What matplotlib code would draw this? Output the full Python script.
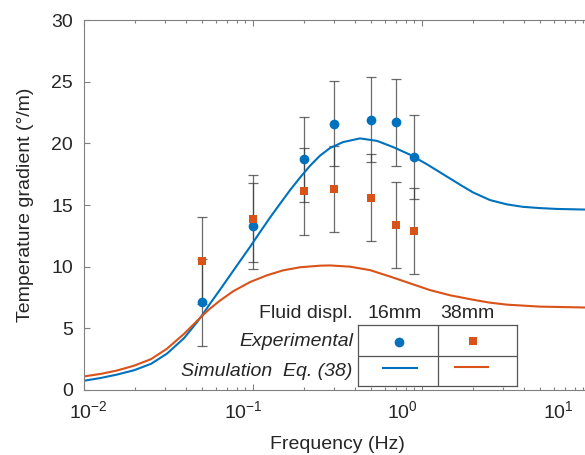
import matplotlib
matplotlib.use("Agg")
import matplotlib.pyplot as plt
import matplotlib.transforms as mtransforms

plt.rcParams["font.family"] = ["Liberation Sans", "DejaVu Sans"]

# measured points
freq = [0.05, 0.1, 0.2, 0.3, 0.5, 0.7, 0.9]
grad_16mm = [7.1, 13.3, 18.7, 21.6, 21.9, 21.7, 18.9]
err_16mm = [3.5, 3.5, 3.45, 3.45, 3.45, 3.5, 3.4]
grad_38mm = [10.5, 13.9, 16.1, 16.3, 15.6, 13.4, 12.9]
err_38mm = [3.5, 3.5, 3.5, 3.45, 3.5, 3.5, 3.5]

# simulation curves (Eq. 38)
sim_f_16 = [0.01, 0.01261, 0.01568, 0.01976, 0.02491, 0.03098, 0.03906, 0.04664,
            0.04992, 0.05568, 0.06379, 0.0731, 0.08377, 0.096, 0.11, 0.1261,
            0.1445, 0.1656, 0.1897, 0.2174, 0.2491, 0.2855, 0.3409, 0.4296,
            0.5414, 0.6737, 0.8492, 1.07, 1.331, 1.701, 2.004, 2.526, 3.184,
            3.96, 4.992, 6.294, 10.0]
sim_g_16 = [0.75, 0.98, 1.25, 1.6, 2.12, 2.95, 4.2, 5.5,
            6.05, 7.0, 8.13, 9.29, 10.45, 11.6, 12.8, 13.98,
            15.1, 16.2, 17.22, 18.18, 19.0, 19.62, 20.1, 20.4,
            20.2, 19.7, 19.08, 18.3, 17.5, 16.6, 16.02, 15.4, 15.05,
            14.85, 14.75, 14.68, 14.62]
sim_f_38 = [0.01, 0.01261, 0.01568, 0.01976, 0.02491, 0.03098, 0.03906, 0.04664,
            0.04992, 0.05568, 0.06379, 0.0762, 0.096, 0.121, 0.1505, 0.1897,
            0.2491, 0.2855, 0.375, 0.4925, 0.6467, 0.8492, 1.115, 1.465, 2.004,
            2.526, 3.184, 4.992, 10.0]
sim_g_38 = [1.1, 1.31, 1.58, 1.97, 2.5, 3.35, 4.55, 5.6,
            6.0, 6.6, 7.25, 8.0, 8.75, 9.3, 9.7, 9.95,
            10.08, 10.1, 10.0, 9.72, 9.2, 8.65, 8.1, 7.68, 7.32,
            7.08, 6.92, 6.76, 6.68]

x_ticks = [1e-2, 1e-1, 1e0, 1e1]
x_label_shift_px = [4, -10, -20, -33]
y_ticks = [0, 5, 10, 15, 20, 25, 30]

blue = "#0072BD"
orange = "#D95319"
frame = "#808080"
txt = "#262626"
fs = 14

W, H = 585, 455
fig = plt.figure(figsize=(W / 100, H / 100), dpi=100)
ax = fig.add_axes([84 / W, 65 / H, 507 / W, 370 / H])

ax.errorbar(freq, grad_16mm, yerr=err_16mm, fmt="none", ecolor="#3a3a3a", alpha=0.75,
            elinewidth=0.9, capsize=3.4, capthick=0.9, zorder=2)
ax.errorbar(freq, grad_38mm, yerr=err_38mm, fmt="none", ecolor="#3a3a3a", alpha=0.75,
            elinewidth=0.9, capsize=3.4, capthick=0.9, zorder=2)
ax.plot(sim_f_16, sim_g_16, color=blue, lw=1.5, zorder=2.5)
ax.plot(sim_f_38, sim_g_38, color=orange, lw=1.5, zorder=2.5)
ax.plot(freq, grad_16mm, "o", color=blue, ms=7, mew=0, zorder=3)
ax.plot(freq, grad_38mm, "s", color=orange, ms=5.5, mew=0, zorder=3)

ax.set_xscale("log")
ax.set_xlim(1e-2, 1e1)
ax.set_ylim(0, 30)
ax.set_xticks(x_ticks)
ax.set_yticks(y_ticks)
ax.tick_params(which="both", direction="in", top=True, right=True, colors=frame,
               labelcolor=txt, labelsize=fs, width=0.8)
ax.tick_params(which="major", length=4)
ax.tick_params(which="minor", length=2.5)
ax.tick_params(axis="y", pad=8)
ax.tick_params(axis="x", pad=7)
for s in ax.spines.values():
    s.set_color(frame)
    s.set_linewidth(0.8)

ax.set_xlabel("Frequency (Hz)", fontsize=fs, color=txt, labelpad=10)
ax.set_ylabel("Temperature gradient (°/m)", fontsize=fs, color=txt, labelpad=12)

# the exported tick labels sit a little left of their ticks
for lbl, dx in zip(ax.get_xticklabels(), x_label_shift_px):
    lbl.set_transform(lbl.get_transform()
                      + mtransforms.ScaledTranslation(dx / 100, 0, fig.dpi_scale_trans))

# table-style legend
leg = fig.add_axes([358 / W, 69 / H, 159 / W, 61 / H])
leg.set_xlim(0, 2)
leg.set_ylim(0, 2)
leg.set_xticks([])
leg.set_yticks([])
for s in leg.spines.values():
    s.set_color("#555555")
    s.set_linewidth(0.9)
leg.axvline(1, color="#555555", lw=0.9)
leg.axhline(1, color="#555555", lw=0.9)
leg.plot([0.52], [1.44], "o", color=blue, ms=7, mew=0)
leg.plot([1.45], [1.47], "s", color=orange, ms=5.5, mew=0)
leg.plot([0.31, 0.74], [0.58, 0.58], color=blue, lw=1.5)
leg.plot([1.22, 1.63], [0.62, 0.62], color=orange, lw=1.5)

fig.text(353 / W, 1 - 313 / H, "Fluid displ.", ha="right", va="center", fontsize=fs, color=txt)
fig.text(395 / W, 1 - 313 / H, "16mm", ha="center", va="center", fontsize=fs, color=txt)
fig.text(467 / W, 1 - 313 / H, "38mm", ha="center", va="center", fontsize=fs, color=txt)
fig.text(353 / W, 1 - 342 / H, "Experimental", ha="right", va="center", fontsize=fs,
         style="italic", color=txt)
fig.text(352 / W, 1 - 371 / H, "Simulation  Eq. (38)", ha="right", va="center", fontsize=fs,
         style="italic", color=txt)

fig.savefig("out.png", dpi=100)
